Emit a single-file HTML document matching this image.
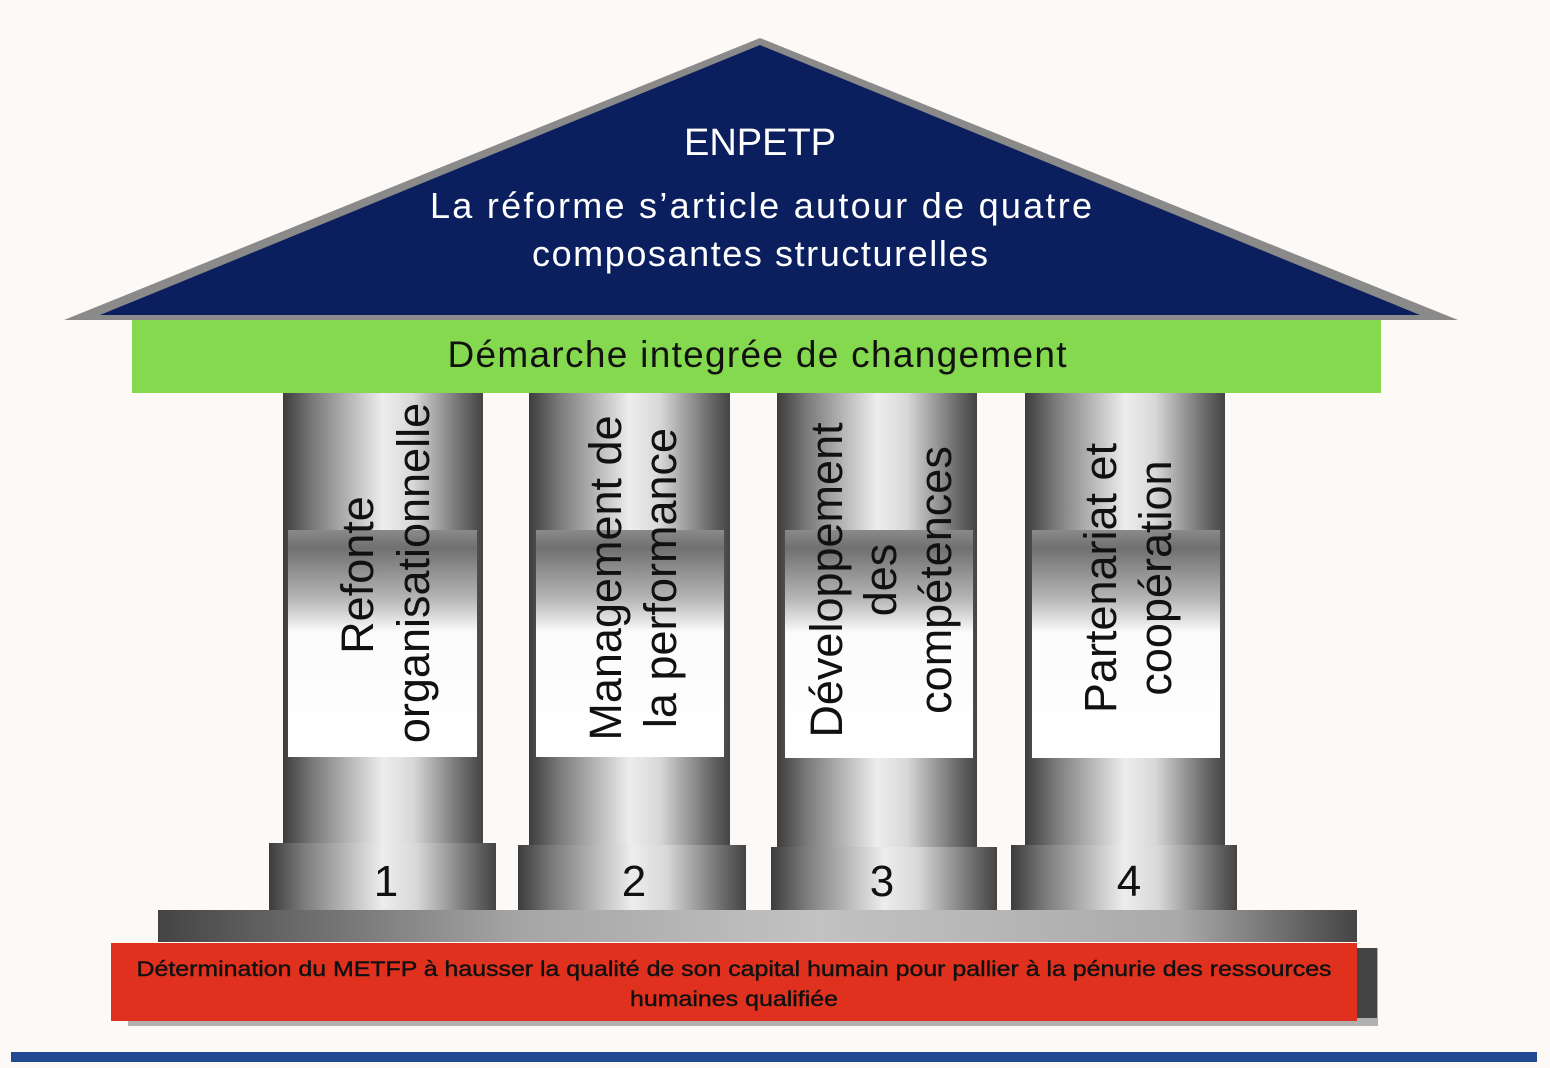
<!DOCTYPE html>
<html><head><meta charset="utf-8"><style>
html,body{margin:0;padding:0;background:#fcf9f6;}
svg{display:block;font-family:"Liberation Sans",sans-serif;}
</style></head><body>
<svg width="1550" height="1068" viewBox="0 0 1550 1068" xmlns="http://www.w3.org/2000/svg">
<defs>
<linearGradient id="cyl" x1="0" x2="1" y1="0" y2="0">
<stop offset="0" stop-color="#3c3c3c"/><stop offset="0.15" stop-color="#7a7a7a"/>
<stop offset="0.5" stop-color="#ededed"/><stop offset="0.65" stop-color="#d8d8d8"/>
<stop offset="0.9" stop-color="#6a6a6a"/><stop offset="1" stop-color="#444"/>
</linearGradient>
<linearGradient id="panel" x1="0" x2="0" y1="0" y2="1">
<stop offset="0" stop-color="#8a8a8a"/><stop offset="0.08" stop-color="#707070"/>
<stop offset="0.3" stop-color="#b5b5b5"/><stop offset="0.45" stop-color="#fbfbfb"/>
<stop offset="1" stop-color="#ffffff"/>
</linearGradient>
<linearGradient id="plat" x1="0" x2="1" y1="0" y2="0">
<stop offset="0" stop-color="#444"/><stop offset="0.3" stop-color="#a5a5a5"/>
<stop offset="0.55" stop-color="#c2c2c2"/><stop offset="0.85" stop-color="#aaa"/><stop offset="1" stop-color="#444"/>
</linearGradient>
</defs>
<rect width="1550" height="1068" fill="#fcf9f6"/>
<polygon points="760,38 64,320 1458,320" fill="#8a8a8a"/>
<polygon points="760,45 100,315 1420,315" fill="#0b1f5e"/>
<text x="760" y="155" font-size="38" fill="#fff" text-anchor="middle">ENPETP</text>
<text x="761" y="218" font-size="36" fill="#fff" text-anchor="middle" textLength="662" lengthAdjust="spacing">La réforme s’article autour de quatre</text>
<text x="760" y="266" font-size="36" fill="#fff" text-anchor="middle" textLength="456" lengthAdjust="spacing">composantes structurelles</text>
<rect x="132" y="320" width="1249" height="73" fill="#84d94e"/>
<text x="757" y="367" font-size="37" fill="#111" text-anchor="middle" textLength="619" lengthAdjust="spacing">Démarche integrée de changement</text>
<g>
<rect x="283" y="393" width="200" height="452" fill="url(#cyl)"/>
<rect x="288" y="530" width="189" height="227" fill="url(#panel)"/>
<rect x="269" y="843" width="227" height="67" fill="url(#cyl)"/>
<rect x="529" y="393" width="201" height="454" fill="url(#cyl)"/>
<rect x="536" y="530" width="188" height="227" fill="url(#panel)"/>
<rect x="518" y="845" width="228" height="67" fill="url(#cyl)"/>
<rect x="777" y="393" width="200" height="456" fill="url(#cyl)"/>
<rect x="785" y="530" width="188" height="228" fill="url(#panel)"/>
<rect x="771" y="847" width="226" height="66" fill="url(#cyl)"/>
<rect x="1025" y="393" width="200" height="454" fill="url(#cyl)"/>
<rect x="1032" y="530" width="188" height="228" fill="url(#panel)"/>
<rect x="1011" y="845" width="226" height="67" fill="url(#cyl)"/>
</g>
<g font-size="45" fill="#111" text-anchor="middle">
<text transform="translate(373,575) rotate(-90)">Refonte</text>
<text transform="translate(429,573) rotate(-90)">organisationnelle</text>
<text transform="translate(621,578) rotate(-90)">Management de</text>
<text transform="translate(676,578) rotate(-90)">la performance</text>
<text transform="translate(842,580) rotate(-90)">Développement</text>
<text transform="translate(896,580) rotate(-90)">des</text>
<text transform="translate(951,580) rotate(-90)">compétences</text>
<text transform="translate(1116,578) rotate(-90)">Partenariat et</text>
<text transform="translate(1171,578) rotate(-90)">coopération</text>
</g>
<g font-size="44" fill="#111" text-anchor="middle">
<text x="386" y="896">1</text><text x="634" y="896">2</text><text x="882" y="896">3</text><text x="1129" y="896">4</text>
</g>
<rect x="158" y="910" width="1199" height="32" fill="url(#plat)"/>
<rect x="128" y="948" width="1250" height="78" fill="#b0b0b0"/>
<rect x="1357" y="948" width="20" height="70" fill="#444"/>
<rect x="111" y="943" width="1246" height="78" fill="#e0301e"/>
<g font-size="21" fill="#111" text-anchor="middle" stroke="#111" stroke-width="0.4">
<text x="734" y="976" textLength="1195" lengthAdjust="spacingAndGlyphs">Détermination du METFP à hausser la qualité de son capital humain pour pallier à la pénurie des ressources</text>
<text x="734" y="1006" textLength="208" lengthAdjust="spacingAndGlyphs">humaines qualifiée</text>
</g>
<rect x="11" y="1052" width="1526" height="10" fill="#214a93"/>
</svg>
</body></html>
